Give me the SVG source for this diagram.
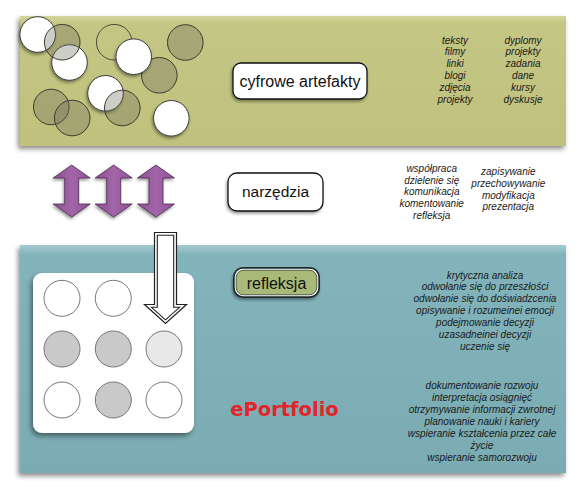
<svg xmlns="http://www.w3.org/2000/svg" width="587" height="498" viewBox="0 0 587 498">
<defs>
  <filter id="sh" x="-10%" y="-10%" width="120%" height="130%">
    <feDropShadow dx="-2" dy="3" stdDeviation="2.5" flood-color="#000" flood-opacity="0.45"/>
  </filter>
  <filter id="shs" x="-20%" y="-20%" width="150%" height="160%">
    <feDropShadow dx="-1" dy="2" stdDeviation="1.5" flood-color="#000" flood-opacity="0.4"/>
  </filter>
  <linearGradient id="olive" x1="0" y1="0" x2="0" y2="1">
    <stop offset="0" stop-color="#d3d59c"/>
    <stop offset="0.06" stop-color="#c4c684"/>
    <stop offset="1" stop-color="#bfc17c"/>
  </linearGradient>
  <linearGradient id="teal" x1="0" y1="0" x2="0" y2="1">
    <stop offset="0" stop-color="#a6cbd0"/>
    <stop offset="0.04" stop-color="#84b4bb"/>
    <stop offset="1" stop-color="#7aabb3"/>
  </linearGradient>
  <linearGradient id="purple" x1="0" y1="0" x2="1" y2="0">
    <stop offset="0" stop-color="#8d4f93"/>
    <stop offset="0.5" stop-color="#a266a8"/>
    <stop offset="1" stop-color="#8f5196"/>
  </linearGradient>
  <path id="darrow" d="M0,0 L18.5,13 L7,13 L7,39 L18.5,39 L0,52 L-18.5,39 L-7,39 L-7,13 L-18.5,13 Z"/>
  <style>
    .lbl { font-family: "Liberation Sans", Arial, sans-serif; font-size: 16px; fill: #111; text-anchor: middle; }
    .lst { font-family: "Liberation Sans", Arial, sans-serif; font-size: 10px; font-style: italic; fill: #1a1a1a; text-anchor: middle; }
    .wc { fill: #ffffff; stroke: #3a3a3a; stroke-width: 1; filter: url(#shs); }
    .gc { fill: #6a6a5c; fill-opacity: 0.33; stroke: #3a3a30; stroke-width: 1; }
    .oc { fill: none; stroke: #4a4a3a; stroke-width: 1; }
    .pc { stroke: #777; stroke-width: 1; }
    .box { fill: #ffffff; stroke: #111; stroke-width: 1.3; }
  </style>
</defs>

<g id="band-top">
  <rect x="20" y="16" width="546" height="130" fill="url(#olive)" filter="url(#sh)"/>
</g>
<g id="band-bottom">
  <rect x="20" y="245" width="546" height="228" fill="url(#teal)" filter="url(#sh)"/>
</g>

<g id="circles-top">
  <circle class="wc" cx="37.7" cy="34.5" r="17.8"/>
  <circle class="wc" cx="69.5" cy="62.5" r="17.8"/>
  <circle class="gc" cx="62.2" cy="42.2" r="17.8"/>
  <circle class="oc" cx="114.2" cy="42.2" r="17.8"/>
  <circle class="gc" cx="159.3" cy="75.3" r="17.8"/>
  <circle class="wc" cx="133.7" cy="56.7" r="17.8"/>
  <circle class="gc" cx="185.3" cy="42.5" r="17.8"/>
  <circle class="wc" cx="105.5" cy="93.3" r="17.8"/>
  <circle class="gc" cx="122.3" cy="108" r="17.8"/>
  <circle class="gc" cx="51.3" cy="107" r="17.8"/>
  <circle class="gc" cx="72.2" cy="118" r="17.8"/>
  <circle class="wc" cx="171.3" cy="118.3" r="17.8"/>
</g>

<g id="node-cyfrowe">
  <rect class="box" x="233" y="63" width="134" height="36" rx="8" filter="url(#shs)"/>
  <text class="lbl" x="300" y="87">cyfrowe artefakty</text>
</g>

<g id="list-artefakty">
  <text class="lst" x="455" y="43.5">teksty</text>
  <text class="lst" x="455" y="55.3">filmy</text>
  <text class="lst" x="455" y="67.1">linki</text>
  <text class="lst" x="455" y="78.9">blogi</text>
  <text class="lst" x="455" y="90.7">zdjęcia</text>
  <text class="lst" x="455" y="102.5">projekty</text>
  <text class="lst" x="523" y="43.5">dyplomy</text>
  <text class="lst" x="523" y="55.3">projekty</text>
  <text class="lst" x="523" y="67.1">zadania</text>
  <text class="lst" x="523" y="78.9">dane</text>
  <text class="lst" x="523" y="90.7">kursy</text>
  <text class="lst" x="523" y="102.5">dyskusje</text>
</g>

<g id="arrows-narzedzia" filter="url(#shs)">
  <use href="#darrow" x="71.7" y="165" fill="url(#purple)" stroke="#4a2a4e" stroke-width="0.8"/>
  <use href="#darrow" x="113.7" y="165" fill="url(#purple)" stroke="#4a2a4e" stroke-width="0.8"/>
  <use href="#darrow" x="156" y="165" fill="url(#purple)" stroke="#4a2a4e" stroke-width="0.8"/>
</g>

<g id="node-narzedzia">
  <rect class="box" x="228" y="173" width="95" height="38" rx="9" filter="url(#shs)"/>
  <text class="lbl" x="275.5" y="197" style="font-size:15.5px">narzędzia</text>
</g>

<g id="list-narzedzia">
  <text class="lst" x="431.7" y="171.8">współpraca</text>
  <text class="lst" x="431.7" y="183.5">dzielenie  się</text>
  <text class="lst" x="431.7" y="195.2">komunikacja</text>
  <text class="lst" x="431.7" y="206.9">komentowanie</text>
  <text class="lst" x="431.7" y="218.6">refleksja</text>
  <text class="lst" x="508.3" y="175.2">zapisywanie</text>
  <text class="lst" x="508.3" y="186.9">przechowywanie</text>
  <text class="lst" x="508.3" y="198.6">modyfikacja</text>
  <text class="lst" x="508.3" y="210.3">prezentacja</text>
</g>

<g id="node-portfolio-grid">
  <rect x="33" y="273" width="161" height="160" rx="9" fill="#ffffff" filter="url(#sh)"/>
  <circle class="pc" cx="62" cy="298.3" r="18" fill="#ffffff"/>
  <circle class="pc" cx="113.3" cy="298.3" r="18" fill="#ffffff"/>
  <circle class="pc" cx="62" cy="349" r="18" fill="#c9c9c9"/>
  <circle class="pc" cx="113.3" cy="349" r="18" fill="#c9c9c9"/>
  <circle class="pc" cx="164" cy="349" r="18" fill="#e8e8e8"/>
  <circle class="pc" cx="62" cy="400" r="18" fill="#ffffff"/>
  <circle class="pc" cx="113.3" cy="400" r="18" fill="#c9c9c9"/>
  <circle class="pc" cx="164" cy="400" r="18" fill="#ffffff"/>
</g>

<g id="connectors">
  <path d="M154.5,232.5 L176.5,232.5 L176.5,304.5 L186.5,304.5 L165.5,323.5 L144.5,304.5 L154.5,304.5 Z" fill="#ffffff" stroke="#222" stroke-width="1.2" stroke-linejoin="miter"/>
  <path d="M157.3,235.3 L173.7,235.3 L173.7,307.3 L179.5,307.3 L165.5,319.8 L151.5,307.3 L157.3,307.3 Z" fill="#ffffff" stroke="#222" stroke-width="1.1" stroke-linejoin="miter"/>
</g>

<g id="node-refleksja">
  <rect x="233" y="267" width="87" height="31" rx="10" fill="#1e2a2a" filter="url(#shs)"/>
  <rect x="234.7" y="268.7" width="83.6" height="27.6" rx="8.5" fill="#ffffff"/>
  <rect x="236.2" y="270.2" width="80.6" height="24.6" rx="7.5" fill="#a9ba78" stroke="#2a3a2a" stroke-width="0.8"/>
  <text class="lbl" x="276.5" y="289">refleksja</text>
</g>

<g id="list-refleksja">
  <text class="lst" x="485" y="278.5">krytyczna analiza</text>
  <text class="lst" x="485" y="290.4">odwołanie się do przeszłości</text>
  <text class="lst" x="485" y="302.3">odwołanie się do doświadzcenia</text>
  <text class="lst" x="485" y="314.2">opisywanie i rozumeinei emocji</text>
  <text class="lst" x="485" y="326.1">podejmowanie decyzji</text>
  <text class="lst" x="485" y="338">uzasadneinei decyzji</text>
  <text class="lst" x="485" y="349.9">uczenie się</text>
</g>

<g id="node-eportfolio">
  <text x="284.5" y="416" font-family="'DejaVu Sans', Verdana, sans-serif" font-weight="bold" font-size="19.5" fill="#e3252b" text-anchor="middle">ePortfolio</text>
</g>

<g id="list-eportfolio">
  <text class="lst" x="482" y="388.5">dokumentowanie rozwoju</text>
  <text class="lst" x="482" y="400.5">interpretacja osiągnięć</text>
  <text class="lst" x="482" y="412.5">otrzymywanie informacji zwrotnej</text>
  <text class="lst" x="482" y="424.5">planowanie nauki i kariery</text>
  <text class="lst" x="482" y="436.5">wspieranie kształcenia przez całe</text>
  <text class="lst" x="482" y="448.5">życie</text>
  <text class="lst" x="482" y="460.5">wspieranie samorozwoju</text>
</g>
</svg>
